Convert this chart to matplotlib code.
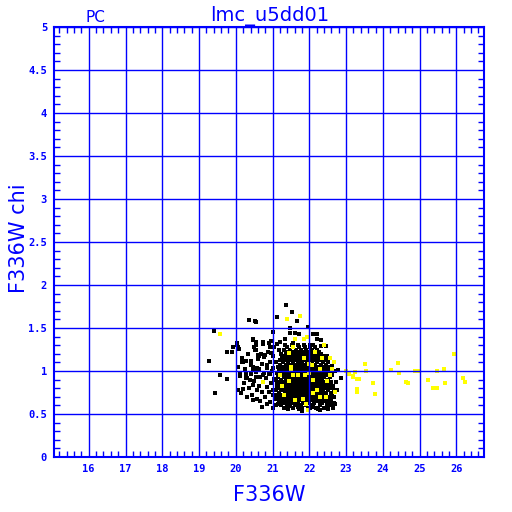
import numpy as np
import matplotlib
matplotlib.use("Agg")
import matplotlib.pyplot as plt
from matplotlib.ticker import MultipleLocator

# dense core of the F336W / chi distribution, one row per chi level: "chi: mag mag mag ..."
core_rows = """
0.555: 21.42 21.71 21.95 22.24 22.51
0.575: 21.30 21.55 21.80 22.02 22.18 22.40 22.63
0.600: 21.22 21.38 21.62 21.77 21.90 22.08 22.29 22.47 22.58
0.625: 21.18 21.33 21.49 21.66 21.84 21.97 22.12 22.35 22.52 22.66
0.650: 21.26 21.41 21.57 21.70 21.86 21.99 22.15 22.27 22.43 22.60
0.6625: 21.35 21.50 21.64 21.78 21.92 22.05 22.20 22.36
0.675: 21.14 21.31 21.46 21.61 21.74 21.88 22.03 22.19 22.33 22.49 22.57
0.6875: 21.40 21.55 21.68 21.83 21.97 22.12 22.27
0.700: 21.20 21.37 21.52 21.65 21.79 21.93 22.06 22.22 22.38 22.54 22.68
0.7125: 21.30 21.45 21.60 21.73 21.87 22.00 22.15 22.31
0.725: 21.10 21.27 21.43 21.56 21.69 21.82 21.96 22.10 22.25 22.41 22.62
0.7375: 21.36 21.50 21.63 21.77 21.91 22.04 22.19 22.34
0.750: 21.17 21.34 21.48 21.60 21.75 21.89 22.01 22.16 22.30 22.46 22.58
0.7625: 21.41 21.55 21.69 21.82 21.96 22.09 22.24
0.775: 21.08 21.24 21.39 21.53 21.67 21.80 21.94 22.08 22.21 22.36 22.52 22.66
0.7875: 21.32 21.47 21.61 21.75 21.88 22.02 22.16 22.31
0.800: 21.13 21.29 21.44 21.58 21.72 21.85 21.98 22.12 22.27 22.42 22.56
0.8125: 21.37 21.51 21.65 21.79 21.92 22.06 22.20 22.35
0.825: 21.21 21.36 21.50 21.63 21.77 21.91 22.04 22.18 22.33 22.48 22.63
0.8375: 21.43 21.57 21.71 21.84 21.98 22.12 22.27
0.850: 21.11 21.26 21.41 21.55 21.68 21.82 21.95 22.09 22.23 22.39 22.54
0.8625: 21.34 21.48 21.62 21.76 21.89 22.03 22.17 22.32
0.875: 21.18 21.33 21.47 21.61 21.74 21.87 22.00 22.14 22.29 22.44 22.59 22.72
0.8875: 21.40 21.54 21.68 21.81 21.95 22.09 22.24
0.900: 21.09 21.23 21.38 21.52 21.66 21.79 21.92 22.06 22.20 22.35 22.50
0.9125: 21.36 21.50 21.64 21.77 21.91 22.04 22.18 22.33
0.925: 21.15 21.30 21.45 21.58 21.71 21.84 21.97 22.11 22.26 22.41 22.56
0.9375: 21.42 21.56 21.70 21.83 21.96 22.10 22.25
0.950: 21.20 21.35 21.49 21.63 21.76 21.89 22.03 22.17 22.32 22.47 22.62
0.9625: 21.38 21.52 21.66 21.79 21.92 22.06 22.21
0.975: 21.12 21.27 21.42 21.56 21.69 21.82 21.95 22.08 22.22 22.37 22.52
0.9875: 21.44 21.58 21.72 21.85 21.99 22.13 22.28
1.000: 21.17 21.32 21.46 21.60 21.73 21.86 21.99 22.13 22.28 22.43 22.58 22.70
1.0125: 21.40 21.54 21.68 21.81 21.94 22.08 22.23
1.025: 21.23 21.38 21.52 21.65 21.78 21.91 22.05 22.19 22.34 22.49
1.0375: 21.46 21.60 21.74 21.87 22.01 22.15
1.050: 21.14 21.29 21.44 21.57 21.70 21.84 21.97 22.10 22.25 22.40 22.55
1.0625: 21.42 21.56 21.70 21.83 21.96 22.10
1.075: 21.21 21.36 21.50 21.63 21.76 21.89 22.02 22.16 22.31 22.46
1.100: 21.27 21.42 21.55 21.68 21.81 21.94 22.08 22.22 22.37 22.52
1.125: 21.19 21.34 21.48 21.61 21.74 21.87 22.00 22.14 22.29 22.44
1.150: 21.25 21.40 21.53 21.66 21.79 21.93 22.06 22.20 22.36
1.175: 21.31 21.46 21.59 21.72 21.85 21.98 22.12 22.27 22.41
1.200: 21.22 21.37 21.51 21.64 21.77 21.90 22.04 22.18 22.33
1.225: 21.43 21.57 21.70 21.84 21.97 22.11 22.25
1.250: 21.30 21.48 21.63 21.78 21.92 22.06 22.22
1.275: 21.40 21.56 21.73 21.88 22.01 22.15
1.300: 21.35 21.52 21.69 21.85 22.10
"""

# sparser black stars around the core
halo_mag = [21.36, 21.11, 21.53, 21.67, 20.36, 20.55, 21.96, 21.47, 19.42, 21.73,
            22.11, 22.22, 21.35, 20.46, 20.56, 20.02, 20.75, 20.90, 21.11, 20.06,
            19.93, 19.89, 19.75, 19.28, 19.57, 19.75, 19.43, 20.05, 20.19, 20.46,
            20.46, 20.67, 20.58, 20.91, 21.02, 21.15, 21.24, 21.47, 21.70, 21.79,
            22.11, 22.29, 22.47, 22.70, 22.74, 22.85, 22.78, 22.62, 22.47, 22.33,
            22.44, 22.20, 22.09, 20.17, 20.29, 20.40, 20.46, 20.58, 20.29, 20.11,
            20.27, 20.38, 20.55, 20.73, 20.93, 20.85, 21.02, 20.97, 21.09, 20.79,
            20.64, 20.55, 20.94, 21.18, 21.20, 21.47, 21.61, 22.20, 22.33, 21.56,
            22.02, 20.53, 20.04, 19.77, 20.08, 20.47, 20.75, 20.49, 20.61, 20.20,
            20.05, 20.12, 20.18, 20.22, 20.25, 20.30, 20.33, 20.36, 20.40, 20.42,
            20.45, 20.48, 20.50, 20.52, 20.55, 20.58, 20.60, 20.62, 20.64, 20.66,
            20.68, 20.70, 20.72, 20.74, 20.76, 20.78, 20.80, 20.82, 20.84, 20.86,
            20.88, 20.90, 20.92, 20.94, 20.96, 20.98, 21.00, 21.02, 21.04, 21.06,
            21.05, 21.08, 20.85, 20.70, 21.00, 20.30, 20.15, 20.55, 20.95, 21.02]
halo_chi = [1.77, 1.63, 1.69, 1.585, 1.59, 1.57, 1.51, 1.50, 1.47, 1.43,
            1.43, 1.43, 1.37, 1.36, 1.34, 1.32, 1.31, 1.32, 1.31, 1.28,
            1.275, 1.22, 1.22, 1.12, 0.957, 0.91, 0.75, 0.78, 0.787, 0.837,
            0.66, 0.655, 0.78, 0.76, 0.72, 0.62, 0.655, 0.59, 0.58, 0.53,
            0.58, 0.55, 0.585, 0.62, 0.78, 0.915, 1.01, 1.06, 1.18, 1.29,
            1.29, 1.205, 1.205, 1.11, 1.12, 1.07, 1.01, 1.035, 0.97, 0.94,
            0.915, 0.895, 0.93, 0.953, 0.97, 1.07, 1.03, 1.205, 1.11, 1.19,
            1.17, 1.24, 1.275, 1.24, 1.34, 1.44, 1.44, 1.37, 1.36, 1.32,
            1.30, 1.58, 1.30, 1.22, 1.26, 1.37, 1.34, 1.28, 1.19, 1.11,
            1.05, 0.98, 1.15, 0.86, 1.02, 0.92, 1.20, 0.80, 1.12, 0.96,
            0.72, 1.05, 0.88, 1.25, 0.99, 0.68, 1.14, 0.83, 1.02, 0.93,
            1.20, 0.76, 1.08, 0.87, 0.98, 1.16, 0.70, 0.92, 1.04, 0.81,
            1.22, 0.96, 0.64, 1.10, 0.86, 1.00, 0.78, 1.18, 0.91, 0.68,
            1.28, 0.60, 0.62, 0.58, 0.57, 0.70, 0.75, 1.30, 1.35, 1.45]

# yellow stars
yel_mag = [23.50, 24.41, 25.94, 25.67, 25.46, 26.17, 26.23, 25.68, 25.47, 25.36,
           25.23, 24.98, 24.88, 24.64, 24.69, 24.43, 24.21, 23.72, 23.78, 23.54,
           23.36, 23.30, 23.29, 23.23, 23.18, 23.07, 23.00, 22.67, 22.69, 21.74,
           21.38, 19.58, 20.73, 21.94, 21.61, 21.85, 21.45, 22.00, 22.61, 23.09,
           23.24, 23.20, 23.35, 22.35, 22.56, 21.49, 22.11, 22.47, 22.29, 21.84,
           21.25, 21.56, 21.88, 22.08, 21.30, 21.60, 21.90, 22.20, 21.50, 21.70,
           22.00, 22.30, 21.45, 22.10, 21.85, 22.45, 21.20, 22.55, 21.95, 22.15,
           21.55, 22.40, 23.29]
yel_chi = [1.085, 1.097, 1.20, 1.023, 1.00, 0.92, 0.87, 0.864, 0.80, 0.80,
           0.89, 1.00, 1.00, 0.87, 0.864, 0.98, 1.01, 0.864, 0.73, 1.00,
           0.91, 0.91, 0.79, 0.99, 0.945, 0.97, 1.00, 1.10, 0.756, 1.64,
           1.61, 1.43, 0.87, 1.40, 1.37, 1.37, 1.21, 1.085, 1.02, 0.965,
           0.99, 0.93, 0.91, 1.15, 1.15, 1.01, 0.895, 0.887, 0.70, 0.68,
           0.82, 0.953, 0.953, 1.07, 0.72, 0.66, 0.62, 0.78, 1.05, 0.95,
           0.98, 1.02, 0.88, 0.75, 1.15, 0.70, 0.95, 0.95, 0.55, 1.22,
           1.28, 1.30, 0.76]

core_mag, core_chi = [], []
for line in core_rows.strip().splitlines():
    chi, mags = line.split(":")
    for m in mags.split():
        core_mag.append(float(m))
        core_chi.append(float(chi))

blue = "#0000ff"
fig = plt.figure(figsize=(5.12, 5.12), dpi=100)
ax = fig.add_axes([54 / 512, 55 / 512, 430 / 512, 430 / 512])

ax.scatter(core_mag, core_chi, s=7, marker="s", c="black", linewidths=0)
ax.scatter(halo_mag, halo_chi, s=5, marker="s", c="black", linewidths=0)
ax.scatter(yel_mag, yel_chi, s=5, marker="s", c="#ffff00", linewidths=0)

ax.set_xlim(15.055, 26.75)
ax.set_ylim(0, 5)
ax.xaxis.set_major_locator(MultipleLocator(1))
ax.xaxis.set_minor_locator(MultipleLocator(0.2))
ax.yaxis.set_minor_locator(MultipleLocator(0.1))
ax.set_yticks([0, 0.5, 1, 1.5, 2, 2.5, 3, 3.5, 4, 4.5, 5])
ax.set_yticklabels(["0", "0.5", "1", "1.5", "2", "2.5", "3", "3.5", "4", "4.5", "5"])
ax.grid(True, which="major", color=blue, linewidth=1)
ax.set_axisbelow(False)
ax.tick_params(which="both", direction="in", colors=blue, top=True, right=True,
               labelsize=7.5, pad=5)
ax.tick_params(which="major", length=0)
ax.tick_params(which="minor", length=4, width=1)
for lab in ax.get_xticklabels() + ax.get_yticklabels():
    lab.set_fontweight("bold")
    lab.set_family("DejaVu Sans Mono")
for sp in ax.spines.values():
    sp.set_color(blue)
    sp.set_linewidth(1.5)

ax.set_xlabel("F336W", color=blue, fontsize=15, labelpad=8)
fig.text(19 / 512, 1 - 238 / 512, "F336W chi", color=blue, fontsize=15,
         rotation=90, ha="center", va="center")
fig.text(270 / 512, 1 - 16 / 512, "lmc_u5dd01", color=blue, fontsize=14,
         ha="center", va="center")
fig.text(95 / 512, 1 - 17 / 512, "PC", color=blue, fontsize=11,
         ha="center", va="center")

fig.savefig("out.png", dpi=100)
